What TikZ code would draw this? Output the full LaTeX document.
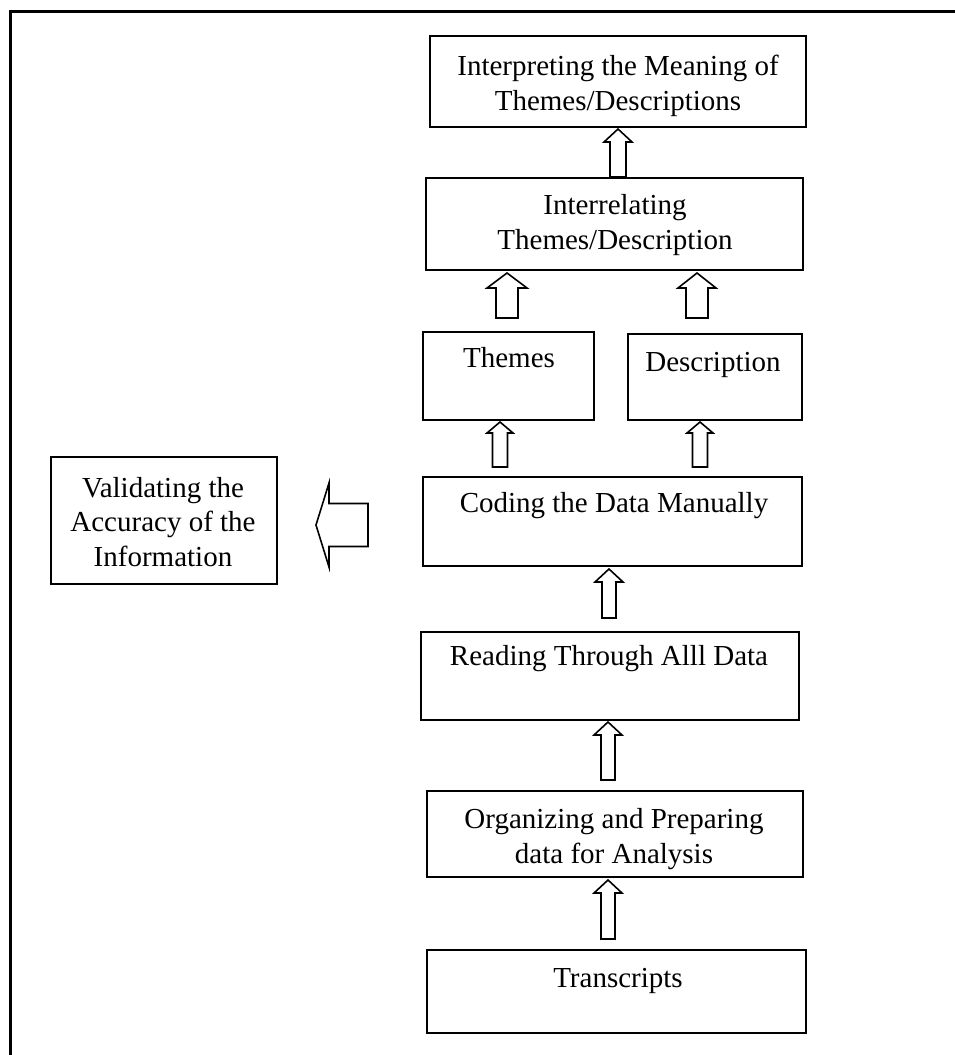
\documentclass[tikz,border=0pt]{standalone}
\usepackage{fontspec}
\setmainfont{Liberation Serif}
\usetikzlibrary{calc}
\tikzset{
  box/.style={draw=black, line width=2.4pt, rectangle, inner sep=0pt, fill=white},
  txt/.style={anchor=base, inner sep=0pt, align=center, font=\fontsize{29}{34.5}\selectfont},
  arr/.style={draw=black, line width=1.6pt, fill=white, line join=miter},
}
\newcommand{\blockarrow}[5]{%
  \coordinate (bah) at ($(#2)!#5!(#1)$);
  \draw[arr] ($(#1)!#3!90:(#2)$) -- ($(bah)!#3!-90:(#1)$) -- ($(bah)!#4!-90:(#1)$) -- (#2)
    -- ($(bah)!#4!90:(#1)$) -- ($(bah)!#3!90:(#1)$) -- ($(#1)!#3!-90:(#2)$) -- cycle;}
\begin{document}
\begin{tikzpicture}[x=1pt,y=-1pt]
\useasboundingbox (0,0) rectangle (954,1055);
\fill[white] (0,0) rectangle (954,1055);
% outer frame (left and top sides)
\draw[line width=3pt] (10,1060) -- (10,11) -- (960,11);

% boxes
\node[box, minimum width=376, minimum height=91] (interp) at (618,81.5) {};
\node[box, minimum width=377, minimum height=92] (interrel) at (614.5,224) {};
\node[box, minimum width=171, minimum height=88] (themes) at (508.5,376) {};
\node[box, minimum width=174, minimum height=86] (desc) at (715,377) {};
\node[box, minimum width=379, minimum height=89] (coding) at (612.5,521.5) {};
\node[box, minimum width=226, minimum height=127] (valid) at (164,520.5) {};
\node[box, minimum width=378, minimum height=88] (reading) at (610,676) {};
\node[box, minimum width=376, minimum height=86] (organ) at (615,834) {};
\node[box, minimum width=379, minimum height=83] (trans) at (616.5,991.5) {};

% texts (base anchor = baseline of the last line)
\node[txt] (interpT) at (618,110) {Interpreting the Meaning of\\Themes/Descriptions};
\node[txt] (interrelT) at (615,249) {Interrelating\\Themes/Description};
\node[txt] (themesT) at (509,367) {Themes};
\node[txt] (descT) at (713,371) {Description};
\node[txt] (codingT) at (614,512) {Coding the Data Manually};
\node[txt] (validT) at (163,566) {Validating the\\Accuracy of the\\Information};
\node[txt] (readingT) at (609,665) {Reading Through Alll Data};
\node[txt] (organT) at (614,863) {Organizing and Preparing\\data for Analysis};
\node[txt] (transT) at (618,987) {Transcripts};

% arrow end points
\coordinate (a1s) at (618,177); \coordinate (a1e) at (618,129);
\coordinate (a2s) at (507,318); \coordinate (a2e) at (507,273);
\coordinate (a3s) at (697,318); \coordinate (a3e) at (697,273);
\coordinate (a4s) at (500,467); \coordinate (a4e) at (500,422);
\coordinate (a5s) at (700,467); \coordinate (a5e) at (700,422);
\coordinate (a6s) at (609,618); \coordinate (a6e) at (609,569);
\coordinate (a7s) at (608,780); \coordinate (a7e) at (608,722);
\coordinate (a8s) at (608,939); \coordinate (a8e) at (608,880);
\coordinate (a9s) at (368,525); \coordinate (a9e) at (316,525);

\blockarrow{a1s}{a1e}{8pt}{14pt}{13pt}
\blockarrow{a2s}{a2e}{11pt}{20pt}{15pt}
\blockarrow{a3s}{a3e}{11pt}{19pt}{15pt}
\blockarrow{a4s}{a4e}{7.5pt}{13pt}{11pt}
\blockarrow{a5s}{a5e}{7.5pt}{13pt}{11pt}
\blockarrow{a6s}{a6e}{7pt}{14pt}{13pt}
\blockarrow{a7s}{a7e}{7pt}{14pt}{13pt}
\blockarrow{a8s}{a8e}{7pt}{14pt}{13pt}
\blockarrow{a9s}{a9e}{21.5pt}{42pt}{13pt}
\end{tikzpicture}
\end{document}
